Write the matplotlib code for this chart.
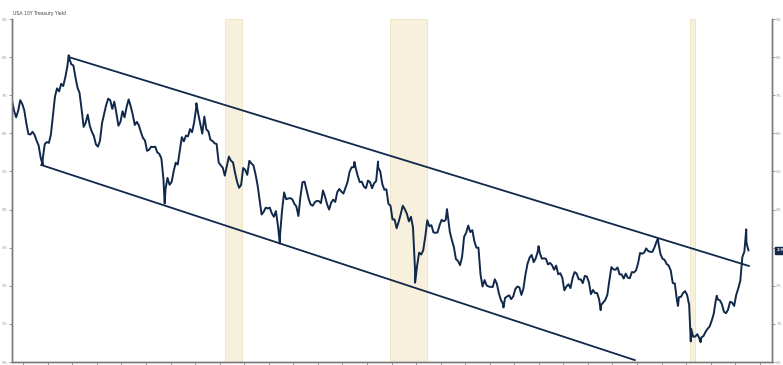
import matplotlib
matplotlib.use("Agg")
import matplotlib.pyplot as plt
import numpy as np

# Monthly average yields (%), Jul 1992 .. Jul 2022
start_year, start_month = 1992, 7
monthly = [
    6.84, 6.59, 6.42, 6.59, 6.87, 6.77,
    6.60, 6.26, 5.98, 5.97, 6.04, 5.96, 5.81, 5.68, 5.36, 5.33, 5.72, 5.77,
    5.75, 5.97, 6.48, 6.97, 7.18, 7.10, 7.30, 7.24, 7.46, 7.74, 7.96, 7.81,
    7.78, 7.47, 7.20, 7.06, 6.63, 6.17, 6.28, 6.49, 6.20, 6.04, 5.93, 5.71,
    5.65, 5.81, 6.27, 6.51, 6.74, 6.91, 6.87, 6.64, 6.83, 6.53, 6.20, 6.30,
    6.58, 6.42, 6.69, 6.89, 6.71, 6.49, 6.22, 6.30, 6.21, 6.03, 5.88, 5.81,
    5.54, 5.57, 5.65, 5.64, 5.65, 5.50, 5.46, 5.34, 4.81, 4.53, 4.83, 4.65,
    4.72, 5.00, 5.23, 5.18, 5.54, 5.90, 5.79, 5.94, 5.92, 6.11, 6.03, 6.28,
    6.66, 6.52, 6.26, 5.99, 6.44, 6.10, 6.05, 5.83, 5.80, 5.74, 5.72, 5.24,
    5.16, 5.10, 4.89, 5.14, 5.39, 5.28, 5.24, 4.97, 4.73, 4.57, 4.65, 5.09,
    5.04, 4.91, 5.28, 5.21, 5.16, 4.93, 4.65, 4.26, 3.87, 3.94, 4.05, 4.03,
    4.05, 3.90, 3.81, 3.96, 3.57, 3.33, 3.98, 4.45, 4.27, 4.29, 4.30, 4.27,
    4.15, 4.08, 3.83, 4.35, 4.72, 4.73, 4.50, 4.28, 4.13, 4.10, 4.19, 4.23,
    4.22, 4.17, 4.50, 4.34, 4.14, 4.00, 4.18, 4.26, 4.20, 4.46, 4.54, 4.47,
    4.42, 4.57, 4.72, 4.99, 5.11, 5.11, 5.09, 4.88, 4.72, 4.73, 4.60, 4.56,
    4.76, 4.72, 4.56, 4.69, 4.75, 5.10, 5.00, 4.67, 4.52, 4.53, 4.15, 4.10,
    3.74, 3.74, 3.51, 3.68, 3.88, 4.10, 4.01, 3.89, 3.69, 3.81, 3.53, 2.42,
    2.52, 2.87, 2.82, 2.93, 3.29, 3.72, 3.56, 3.59, 3.40, 3.39, 3.40, 3.59,
    3.73, 3.69, 3.73, 3.85, 3.42, 3.20, 3.01, 2.70, 2.65, 2.54, 2.76, 3.29,
    3.39, 3.58, 3.41, 3.46, 3.17, 3.00, 3.00, 2.30, 1.98, 2.15, 2.01, 1.98,
    1.97, 1.97, 2.17, 2.05, 1.80, 1.62, 1.53, 1.68, 1.72, 1.75, 1.65, 1.72,
    1.91, 1.98, 1.96, 1.76, 1.93, 2.30, 2.58, 2.74, 2.81, 2.62, 2.72, 2.90,
    2.86, 2.71, 2.72, 2.71, 2.56, 2.60, 2.54, 2.42, 2.53, 2.30, 2.33, 2.21,
    1.88, 1.98, 2.04, 1.94, 2.20, 2.36, 2.32, 2.17, 2.17, 2.07, 2.26, 2.24,
    2.09, 1.78, 1.89, 1.81, 1.81, 1.64, 1.50, 1.56, 1.63, 1.76, 2.14, 2.49,
    2.43, 2.42, 2.48, 2.30, 2.30, 2.19, 2.32, 2.21, 2.20, 2.36, 2.35, 2.40,
    2.58, 2.86, 2.84, 2.87, 2.98, 2.91, 2.89, 2.89, 3.00, 3.15, 3.12, 2.83,
    2.71, 2.68, 2.57, 2.53, 2.40, 2.07, 2.06, 1.63, 1.70, 1.71, 1.81, 1.86,
    1.76, 1.50, 0.87, 0.66, 0.67, 0.73, 0.62, 0.65, 0.68, 0.79, 0.87, 0.93,
    1.08, 1.26, 1.61, 1.64, 1.62, 1.52, 1.32, 1.28, 1.37, 1.58, 1.56, 1.47,
    1.76, 1.93, 2.13, 2.75, 2.90, 3.14, 2.93,
]

# Notable daily extremes visible in the chart (decimal year, yield %)
extreme_dates = [1993.79, 1994.85, 1998.76, 2000.05, 2003.45, 2006.49, 2007.45,
                 2008.96, 2010.26, 2012.56, 2013.99, 2016.52, 2018.85, 2019.67,
                 2020.19, 2020.59, 2021.25, 2022.45, 2022.49]
extreme_values = [5.17, 8.05, 4.16, 6.79, 3.11, 5.25, 5.26,
                  2.08, 4.01, 1.43, 3.04, 1.36, 3.24, 1.47,
                  0.54, 0.52, 1.74, 3.48, 3.05]

# Trend channel end points (decimal year, yield %)
upper_x = [1994.86, 2022.56]
upper_y = [8.00, 2.52]
lower_x = [1993.73, 2017.91]
lower_y = [5.17, 0.05]

# Recession periods (decimal year)
recessions = [(2001.22, 2001.92), (2007.92, 2009.45), (2020.15, 2020.35)]

y_ticks = list(range(0, 10))
y_tick_labels = [f"{v}%" for v in y_ticks]
last_label = "2.9"
title = "USA 10Y Treasury Yield"

# build series
mdates = [start_year + (start_month - 1 + i + 0.5) / 12.0 for i in range(len(monthly))]
xs = np.array(mdates + extreme_dates)
ys = np.array(monthly + extreme_values)
order = np.argsort(xs)
xs, ys = xs[order], ys[order]

W, H = 783, 365
fig = plt.figure(figsize=(W / 100, H / 100), dpi=100)
ax = fig.add_axes([12 / W, 3 / H, 760 / W, 343 / H])

navy = "#10284a"
for a, b in recessions:
    ax.axvspan(a, b, facecolor="#f7f0dc", edgecolor="#efe3bf", lw=0.6, zorder=0)

ax.plot(xs, ys, color=navy, lw=1.4, zorder=3)
ax.plot(upper_x, upper_y, color=navy, lw=1.3, zorder=4)
ax.plot(lower_x, lower_y, color=navy, lw=1.3, zorder=4)

ax.set_xlim(1992.54, 2023.5)
ax.set_ylim(0, 9)

ax.set_xticks(np.arange(1993, 2024))
ax.set_xticklabels([])
ax.set_yticks(y_ticks)
ax.set_yticklabels(y_tick_labels)
ax.tick_params(axis="y", left=True, labelleft=True, labelsize=2.6,
               labelcolor="#9a9a9a", color="#888888", length=2, width=0.6, pad=1)
ax.tick_params(axis="x", color="#888888", length=3, width=0.6)

ax2 = ax.twinx()
ax2.set_ylim(0, 9)
ax2.set_yticks(y_ticks)
# the 3% label on the right is hidden behind the last-value box
ax2.set_yticklabels(["" if v == 3 else lab for v, lab in zip(y_ticks, y_tick_labels)])
ax2.tick_params(axis="y", labelsize=2.6, labelcolor="#9a9a9a", color="#888888",
                length=2, width=0.6, pad=1)

for a in (ax, ax2):
    for side in ["left", "right", "bottom"]:
        a.spines[side].set_color("#7a7a7a")
        a.spines[side].set_linewidth(1.0)
    a.spines["top"].set_visible(False)

ax2.annotate(last_label, xy=(1.0, ys[-1]), xycoords=("axes fraction", "data"),
             xytext=(6, 0), textcoords="offset points", ha="center", va="center",
             fontsize=2.8, color="white", fontweight="bold",
             bbox=dict(boxstyle="square,pad=0.35", fc=navy, ec=navy))

fig.text(13 / W, 1 - 14 / H, title, fontsize=3.3, color="#444444",
         ha="left", va="center")

fig.savefig("out.png", dpi=100)
